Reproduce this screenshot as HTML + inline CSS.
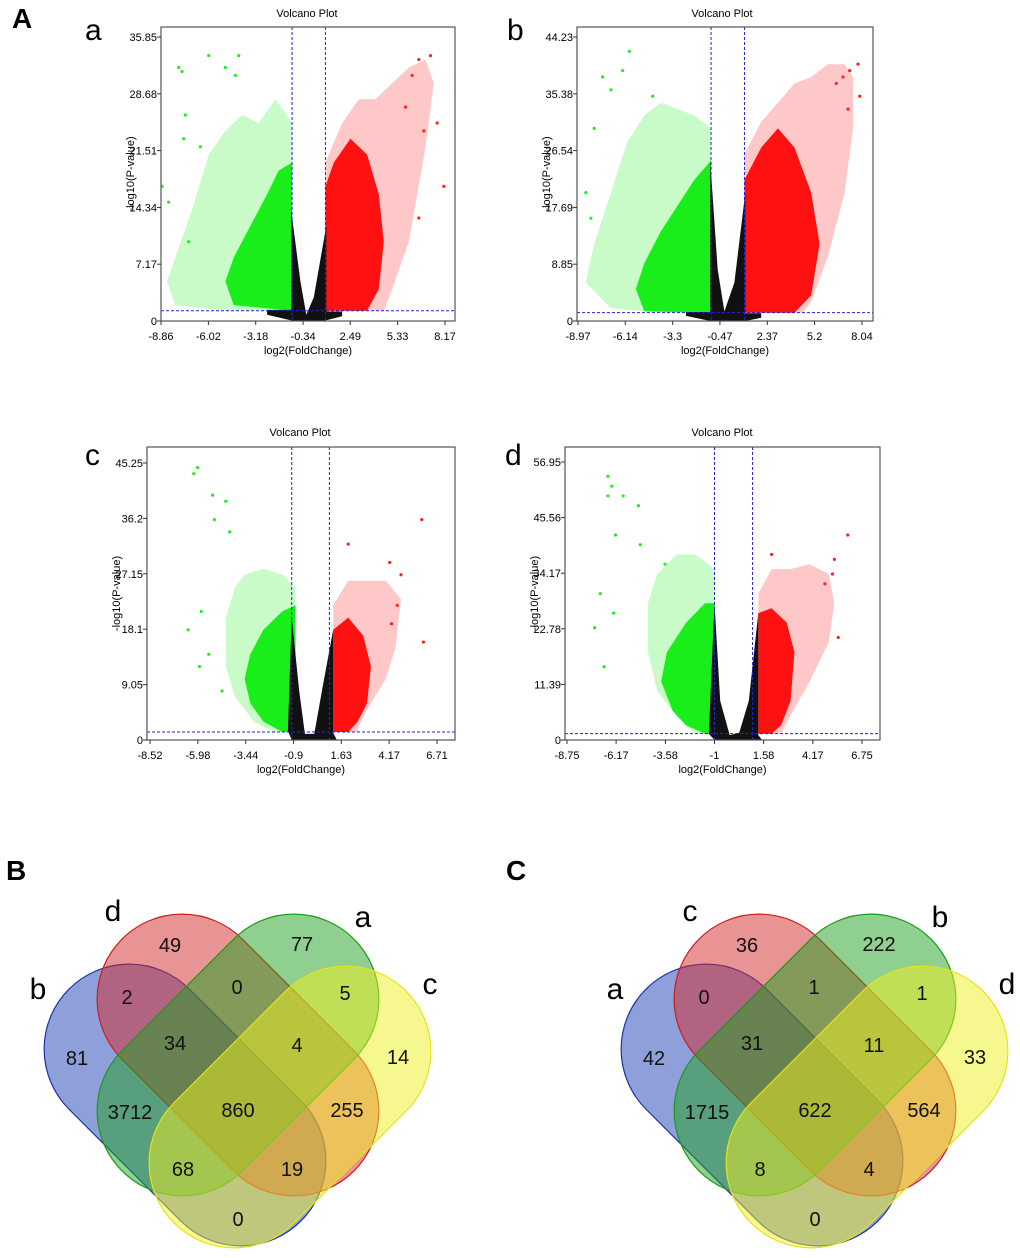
<!DOCTYPE html>
<html><head><meta charset="utf-8">
<style>
html,body{margin:0;padding:0;background:#fff;}
svg{display:block;font-family:"Liberation Sans",sans-serif;}
</style></head>
<body>
<svg id="fig" width="1020" height="1258" viewBox="0 0 1020 1258">
<g id="volcanoes"></g>
<g id="venns"></g>
<text x="12" y="28" font-size="28" font-weight="bold">A</text>
<text x="85" y="40" font-size="30">a</text>
<text x="507" y="40" font-size="30">b</text>
<text x="85" y="465" font-size="30">c</text>
<text x="505" y="465" font-size="30">d</text>
<text x="6" y="880" font-size="28" font-weight="bold">B</text>
<text x="506" y="880" font-size="28" font-weight="bold">C</text>
</svg>
<script>
// ---- Volcano data (log2FC, -log10 p) ----
const aTicksX=["-8.86","-6.02","-3.18","-0.34","2.49","5.33","8.17"];
const aTicksY=["0","7.17","14.34","21.51","28.68","35.85"];
const aGreenOuter=[[-1,25],[-2,28],[-3,25],[-4,26],[-5,24],[-6,21],[-7,14],[-8,8],[-8.5,5],[-8,2],[-5,1.3]];
const aGreenCore=[[-1,20],[-1.8,19],[-2.5,16],[-3.5,12],[-4.5,8],[-5,5],[-4.5,2],[-1,1.3]];
const aBlack=[[-1.05,14],[-0.5,5],[-0.15,0.8],[0.3,3],[1.05,12],[1.05,1.2],[2,1.2],[2,0.6],[0.5,-0.2],[-0.5,-0.2],[-2.5,0.8],[-2.5,1.4],[-1.05,1.4]];
const aRedCore=[[1,17],[1.5,20],[2.5,23],[3.5,21],[4.2,16],[4.5,10],[4.2,4],[3.5,1.3],[1,1.3]];
const aRedOuter=[[1,20],[2,25],[3,28],[4,28],[5,30],[6,32],[7,33],[7.5,30],[7,22],[6.5,16],[6,10],[5,4],[4.5,1.3]];
const aGreenPts=[[-7.8,32],[-7.6,31.5],[-6,33.5],[-5,32],[-4.2,33.5],[-4.4,31],[-7.4,26],[-6.5,22],[-8.4,15],[-7.2,10],[-8.8,17],[-7.5,23]];
const aRedPts=[[7.3,33.5],[6.6,33],[6.2,31],[7.7,25],[8.1,17],[6.6,13],[6.9,24],[5.8,27]];

const bTicksX=["-8.97","-6.14","-3.3","-0.47","2.37","5.2","8.04"];
const bTicksY=["0","8.85","17.69","26.54","35.38","44.23"];
const bGreenOuter=[[-1,30],[-2,32],[-3,33],[-4,34],[-5,32],[-6,28],[-7,20],[-8,12],[-8.5,6],[-7,2],[-4,1.3]];
const bGreenCore=[[-1,25],[-2,22],[-3,18],[-4,14],[-5,9],[-5.5,5],[-5,1.5],[-1,1.3]];
const bBlack=[[-1.05,25],[-0.6,8],[-0.2,1.5],[0.4,6],[1.05,20],[1.05,1.2],[2,1.2],[2,0.5],[0.5,-0.3],[-0.5,-0.3],[-2.5,0.8],[-2.5,1.4],[-1.05,1.4]];
const bRedCore=[[1,22],[2,27],[3,30],[4,27],[5,20],[5.5,12],[5,4],[4,1.3],[1,1.3]];
const bRedOuter=[[1,26],[2,31],[3,34],[4,37],[5,38],[6,40],[7,40],[7.5,38],[7.5,30],[7,20],[6,10],[5,3],[4.5,1.3]];
const bGreenPts=[[-5.9,42],[-7.5,38],[-8,30],[-7,36],[-4.5,35],[-8.5,20],[-6.3,39],[-8.2,16]];
const bRedPts=[[7.8,40],[7.3,39],[6.5,37],[7.2,33],[7.9,35],[6.9,38]];

const cTicksX=["-8.52","-5.98","-3.44","-0.9","1.63","4.17","6.71"];
const cTicksY=["0","9.05","18.1","27.15","36.2","45.25"];
const cGreenOuter=[[-0.8,25],[-1.5,27],[-2.5,28],[-3.5,27],[-4,25],[-4.5,20],[-4.5,12],[-4,7],[-3,3],[-2,1.3]];
const cGreenCore=[[-0.8,22],[-1.5,21],[-2.5,18],[-3.2,14],[-3.5,10],[-3.2,6],[-2.5,3],[-1.5,1.3]];
const cBlack=[[-1,20],[-0.6,8],[-0.3,1],[0.2,1],[0.6,8],[1.2,18],[1.2,1.2],[1.4,0],[0,-0.5],[-1,0],[-1.2,1.5]];
const cRedCore=[[1.2,18],[2,20],[2.8,17],[3.2,12],[3,6],[2.5,3],[2,1.3],[1.2,1.3]];
const cRedOuter=[[1.2,22],[2,26],[3,26],[4,26],[4.8,23],[4.5,15],[4,10],[3,5],[2.5,2]];
const cGreenPts=[[-6.2,43.5],[-6,44.5],[-5.2,40],[-4.5,39],[-5.1,36],[-4.3,34],[-6.5,18],[-5.8,21],[-5.9,12],[-5.4,14],[-4.7,8]];
const cRedPts=[[5.9,36],[5.99,16],[2,32],[4.2,29],[4.8,27],[4.3,19],[4.6,22]];

const dTicksX=["-8.75","-6.17","-3.58","-1","1.58","4.17","6.75"];
const dTicksY=["0","11.39","22.78","34.17","45.56","56.95"];
const dGreenOuter=[[-1,35],[-2,38],[-3,38],[-4,34],[-4.5,28],[-4.5,18],[-4,10],[-3,5],[-2,1.3]];
const dGreenCore=[[-1,28],[-1.5,28],[-2.5,24],[-3.5,18],[-3.8,12],[-3.2,6],[-2.5,3],[-1.5,1.3]];
const dBlack=[[-1,28],[-0.7,8],[-0.2,1],[0.3,1.5],[0.8,8],[1.3,26],[1.3,1],[1.5,0],[0,-0.5],[-1,0],[-1.3,1.3]];
const dRedCore=[[1.3,26],[2,27],[2.8,24],[3.2,18],[3,8],[2.5,3],[2,1.3]];
const dRedOuter=[[1.3,30],[2,35],[3,35],[4,36],[5,34],[5.3,28],[5,20],[4,12],[3,5],[2.5,1.3]];
const dGreenPts=[[-6.6,54],[-6.4,52],[-6.6,50],[-5.8,50],[-5,48],[-6.2,42],[-4.9,40],[-3.6,36],[-7,30],[-7.3,23],[-6.8,15],[-6.3,26]];
const dRedPts=[[6,42],[5.2,34],[5.3,37],[2,38],[5.5,21],[4.8,32]];

const NS="http://www.w3.org/2000/svg";
function mk(tag,attrs,parent){const e=document.createElementNS(NS,tag);for(const k in attrs)e.setAttribute(k,attrs[k]);parent.appendChild(e);return e;}

const panels=[
 {id:"a",ticksX:aTicksX,ticksY:aTicksY,x0:161,x1:445,y0:321,y1:37,L:161,R:455,T:27,B:321,title:307,ty:17,
  go:aGreenOuter,gc:aGreenCore,bk:aBlack,rc:aRedCore,ro:aRedOuter,gp:aGreenPts,rp:aRedPts},
 {id:"b",ticksX:bTicksX,ticksY:bTicksY,x0:578,x1:862,y0:321,y1:37,L:577,R:873,T:27,B:321,title:722,ty:17,
  go:bGreenOuter,gc:bGreenCore,bk:bBlack,rc:bRedCore,ro:bRedOuter,gp:bGreenPts,rp:bRedPts},
 {id:"c",ticksX:cTicksX,ticksY:cTicksY,x0:150,x1:437,y0:740,y1:463,L:147,R:455,T:447,B:740,title:300,ty:436,
  go:cGreenOuter,gc:cGreenCore,bk:cBlack,rc:cRedCore,ro:cRedOuter,gp:cGreenPts,rp:cRedPts},
 {id:"d",ticksX:dTicksX,ticksY:dTicksY,x0:567,x1:862,y0:740,y1:462,L:565,R:880,T:447,B:740,title:722,ty:436,
  go:dGreenOuter,gc:dGreenCore,bk:dBlack,rc:dRedCore,ro:dRedOuter,gp:dGreenPts,rp:dRedPts}
];
const vg=document.getElementById("volcanoes");
panels.forEach(p=>{
  const xv0=+p.ticksX[0],xv1=+p.ticksX[p.ticksX.length-1];
  const yv0=+p.ticksY[0],yv1=+p.ticksY[p.ticksY.length-1];
  const sx=v=>p.x0+(v-xv0)/(xv1-xv0)*(p.x1-p.x0);
  const sy=v=>p.y0+(v-yv0)/(yv1-yv0)*(p.y1-p.y0);
  const g=mk("g",{},vg);
  
  
  const cid="clip"+p.id;
  const cp=mk("clipPath",{id:cid},g);mk("rect",{x:p.L,y:p.T,width:p.R-p.L,height:p.B-p.T},cp);
  const t=mk("text",{x:p.title,y:p.ty,"font-size":11,"text-anchor":"middle"},g);t.textContent="Volcano Plot";
  
  
  const marks=mk("g",{"clip-path":"url(#"+cid+")"},g);
  const poly=(pts,fill,op,name)=>{
    const e=mk("polygon",{points:pts.map(q=>sx(q[0]).toFixed(1)+","+sy(q[1]).toFixed(1)).join(" "),fill:fill,"fill-opacity":op},marks);
    
    
  };
  const close=arr=>arr.concat([[arr[arr.length-1][0],1.3],[arr[0][0],1.3]]);
  poly(close(p.go),"#22ee22",0.25,"down-regulated-sparse");
  poly(close(p.ro),"#ff2222",0.25,"up-regulated-sparse");
  poly(close(p.gc),"#1aee1a",1,"down-regulated-dense");
  poly(close(p.rc),"#ff1111",1,"up-regulated-dense");
  poly(p.bk,"#111",1,"not-significant");
  p.gp.forEach(q=>{const c=mk("circle",{cx:sx(q[0]),cy:sy(q[1]),r:1.6,fill:"#22ee22"},marks);
    
    });
  p.rp.forEach(q=>{const c=mk("circle",{cx:sx(q[0]),cy:sy(q[1]),r:1.6,fill:"#ff2222"},marks);
    
    });
  [-1,1].forEach(v=>{const l=mk("line",{x1:sx(v),x2:sx(v),y1:p.T,y2:p.B,stroke:"#2222dd","stroke-width":1,"stroke-dasharray":"3,2"},g);
    
    });
  const hl=mk("line",{x1:p.L,x2:p.R,y1:sy(1.3),y2:sy(1.3),stroke:"#2222dd","stroke-width":1,"stroke-dasharray":"3,2"},g);
  
  
  const fr=mk("rect",{x:p.L,y:p.T,width:p.R-p.L,height:p.B-p.T,fill:"none",stroke:"#555","stroke-width":1.2},g);
  
  
  p.ticksX.forEach(s=>{const x=sx(+s);mk("line",{x1:x,x2:x,y1:p.B,y2:p.B+4,stroke:"#333"},g);
    const tt=mk("text",{x:x,y:p.B+19,"font-size":11,"text-anchor":"middle"},g);tt.textContent=s;
    
    });
  p.ticksY.forEach(s=>{const y=sy(+s);mk("line",{x1:p.L-4,x2:p.L,y1:y,y2:y,stroke:"#333"},g);
    const tt=mk("text",{x:p.L-4,y:y+4,"font-size":11,"text-anchor":"end"},g);tt.textContent=s;
    
    });
  const xt=mk("text",{x:(p.L+p.R)/2,y:p.B+33,"font-size":11,"text-anchor":"middle"},g);xt.textContent="log2(FoldChange)";
  
  
  const yc=(p.T+p.B)/2;
  const yt=mk("text",{x:0,y:0,"font-size":11,"text-anchor":"middle",transform:"translate("+(p.L-27)+","+yc+") rotate(-90)"},g);yt.textContent="-log10(P-value)";
  
  
});

// ---- Venn data ----
const vennBLabels=["b","d","a","c"];
const vennBCounts=["49","77","2","0","5","34","4","14","81","3712","860","255","68","19","0"];
const vennCLabels=["a","c","b","d"];
const vennCCounts=["36","222","0","1","1","31","11","33","42","1715","622","564","8","4","0"];
const vennRegionPos=[[170,945],[302,944],[127,997],[237,987],[345,993],[175,1043],[297,1045],[398,1057],[77,1058],[130,1112],[238,1110],[347,1110],[183,1169],[292,1169],[238,1219]];
const vennLabelPos=[[38,990],[113,912],[363,918],[430,985]];
const shapes=[
 {c:[185,1105],rot:45,fill:"#1f3fb5",stroke:"#1a34a8"},
 {c:[238,1055],rot:45,fill:"#d42a2a",stroke:"#d01c1c"},
 {c:[238,1055],rot:-45,fill:"#1fa01f",stroke:"#1a9a1a"},
 {c:[290,1107],rot:-45,fill:"#f0f020",stroke:"#e6e21a"}
];
const vennG=document.getElementById("venns");
function drawVenn(dx,labels,counts,name){
  const g=mk("g",{transform:"translate("+dx+",0)"},vennG);
  
  
  shapes.forEach((s,i)=>{
    const r=mk("rect",{x:s.c[0]-164,y:s.c[1]-85,width:328,height:170,rx:85,ry:85,fill:s.fill,"fill-opacity":0.5,stroke:s.stroke,"stroke-width":1.2,transform:"rotate("+s.rot+" "+s.c[0]+" "+s.c[1]+")"},g);
    
    
  });
  counts.forEach((v,i)=>{
    const t=mk("text",{x:vennRegionPos[i][0],y:vennRegionPos[i][1]+7,"font-size":20,"text-anchor":"middle",fill:"#111"},g);t.textContent=v;
    
    
  });
  labels.forEach((v,i)=>{
    const t=mk("text",{x:vennLabelPos[i][0],y:vennLabelPos[i][1]+9,"font-size":30,"text-anchor":"middle"},g);t.textContent=v;
    
    
  });
}
drawVenn(0,vennBLabels,vennBCounts,"venn-B");
drawVenn(577,vennCLabels,vennCCounts,"venn-C");
</script>
</body></html>
